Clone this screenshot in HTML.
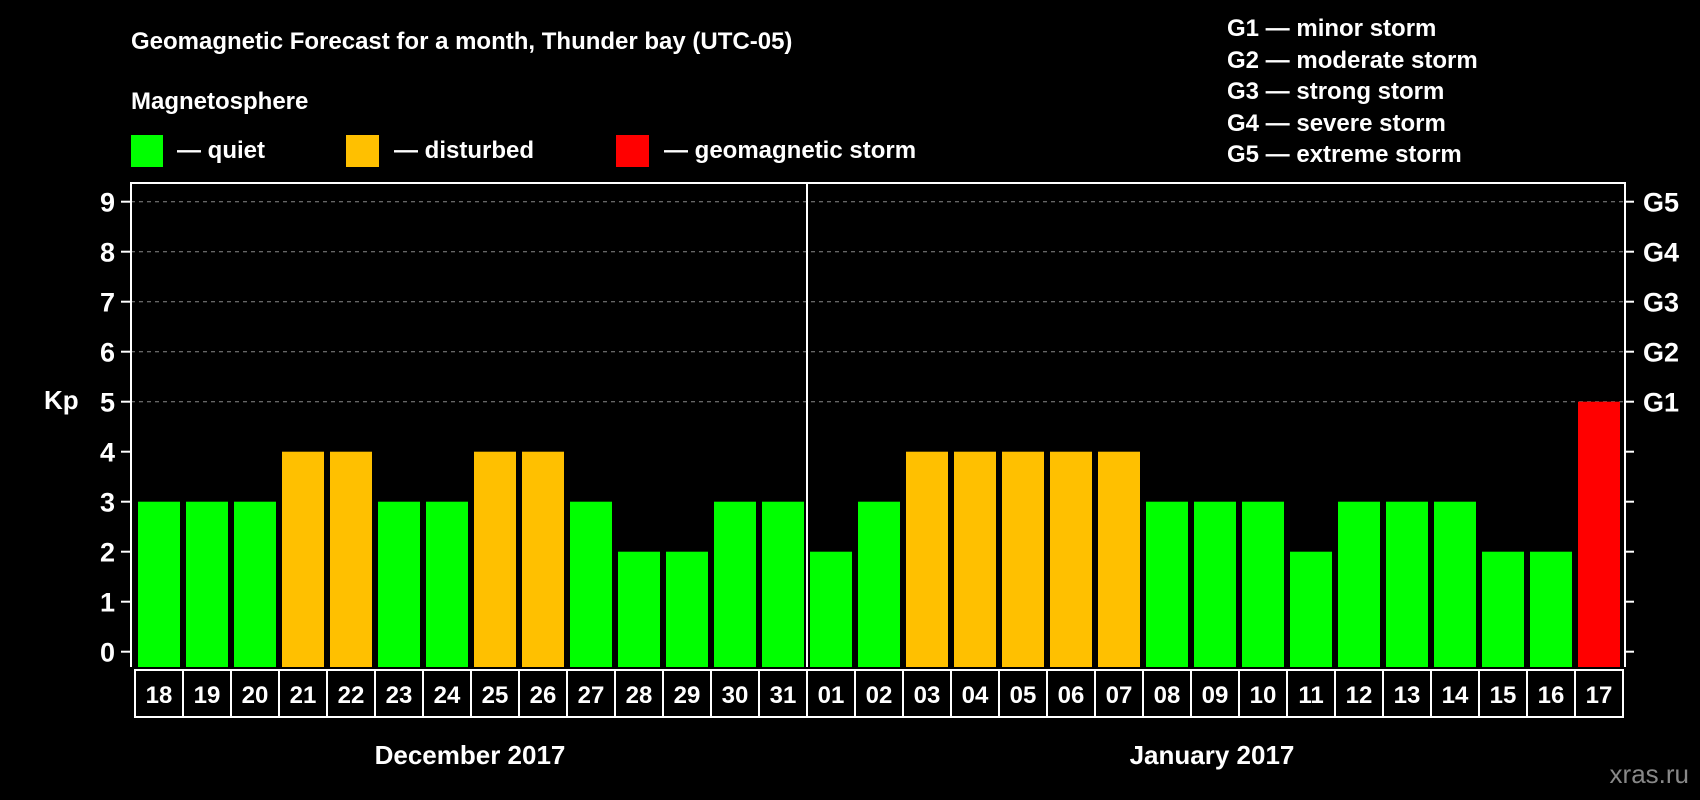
<!DOCTYPE html>
<html><head><meta charset="utf-8"><style>
html,body{margin:0;padding:0;background:#000;}
svg{display:block;font-family:"Liberation Sans",sans-serif;font-weight:bold;}
</style></head><body>
<svg id="chart" width="1700" height="800" viewBox="0 0 1700 800">
<rect x="0" y="0" width="1700" height="800" fill="#000"/>
<text x="131" y="49" font-size="24" fill="#fff">Geomagnetic Forecast for a month, Thunder bay (UTC-05)</text>
<text x="131" y="109" font-size="24" fill="#fff">Magnetosphere</text>
<g>
<rect x="131" y="135" width="32" height="32" fill="#00ff00"/>
<text x="177" y="158" font-size="24" fill="#fff">— quiet</text>
<rect x="346" y="135" width="33" height="32" fill="#ffc000"/>
<text x="394" y="158" font-size="24" fill="#fff">— disturbed</text>
<rect x="616" y="135" width="33" height="32" fill="#ff0000"/>
<text x="664" y="158" font-size="24" fill="#fff">— geomagnetic storm</text>
</g>
<g font-size="24" fill="#fff">
<text x="1227" y="36">G1 — minor storm</text>
<text x="1227" y="68">G2 — moderate storm</text>
<text x="1227" y="99">G3 — strong storm</text>
<text x="1227" y="131">G4 — severe storm</text>
<text x="1227" y="162">G5 — extreme storm</text>
</g>
<g id="plot"></g>
<text x="44" y="409" font-size="26" fill="#fff">Kp</text>
<text x="470" y="764" font-size="26" fill="#fff" text-anchor="middle">December 2017</text>
<text x="1212" y="764" font-size="26" fill="#fff" text-anchor="middle">January 2017</text>
<text x="1689" y="783" font-size="26" fill="#888" text-anchor="end" font-weight="normal">xras.ru</text>
</svg>
<script>
const days = ["18","19","20","21","22","23","24","25","26","27","28","29","30","31","01","02","03","04","05","06","07","08","09","10","11","12","13","14","15","16","17"];
const kpValues = [3,3,3,4,4,3,3,4,4,3,2,2,3,3,2,3,4,4,4,4,4,3,3,3,2,3,3,3,2,2,5];
const yTicks = [0,1,2,3,4,5,6,7,8,9];
const gLabels = ["G1","G2","G3","G4","G5"];
const gLevels = [5,6,7,8,9];

const NS = "http://www.w3.org/2000/svg";
const plot = document.getElementById("plot");
const X0 = 131, X1 = 1625, YTOP = 183, YBOT = 667;
function yScale(v){ return 651.7 - 50 * v; }
function slotX(i){ return 135 + 48 * i; }
function mk(tag, attrs){ const e = document.createElementNS(NS, tag); for (const k in attrs) e.setAttribute(k, attrs[k]); plot.appendChild(e); return e; }
function colorFor(v){ return v >= 5 ? "#ff0000" : (v >= 4 ? "#ffc000" : "#00ff00"); }

gLevels.forEach(function(v){
  const g = mk("line", {x1: X0, x2: X1, y1: yScale(v), y2: yScale(v), stroke: "#888", "stroke-width": 1, "stroke-dasharray": "4,4"});
  
  
});

kpValues.forEach(function(v, i){
  const y = yScale(v);
  const r = mk("rect", {x: slotX(i) + 3, y: y, width: 42, height: YBOT - y, fill: colorFor(v)});
  
  
  const c = mk("rect", {x: slotX(i), y: YBOT + 3, width: 48, height: 47, fill: "none", stroke: "#fff", "stroke-width": 2});
  
  
  const t = mk("text", {x: slotX(i) + 24, y: YBOT + 36, "font-size": 24, fill: "#fff", "text-anchor": "middle"});
  t.textContent = days[i];
  
  
});

const frame = mk("path", {d: "M" + X0 + " " + YBOT + " V" + YTOP + " H" + X1 + " V" + YBOT, fill: "none", stroke: "#fff", "stroke-width": 2});


const mid = mk("line", {x1: 807, x2: 807, y1: YTOP, y2: YBOT, stroke: "#fff", "stroke-width": 2});



yTicks.forEach(function(v){
  const y = yScale(v);
  const tl = mk("line", {x1: X0 - 10, x2: X0, y1: y, y2: y, stroke: "#fff", "stroke-width": 2});
  
  
  const tr = mk("line", {x1: X1, x2: X1 + 9, y1: y, y2: y, stroke: "#fff", "stroke-width": 2});
  
  
  const lab = mk("text", {x: 115, y: y + 10, "font-size": 27, fill: "#fff", "text-anchor": "end"});
  lab.textContent = String(v);
  
  
});

gLevels.forEach(function(v, i){
  const t = mk("text", {x: 1643, y: yScale(v) + 10, "font-size": 27, fill: "#fff"});
  t.textContent = gLabels[i];
  
  
});
</script>
</body></html>
